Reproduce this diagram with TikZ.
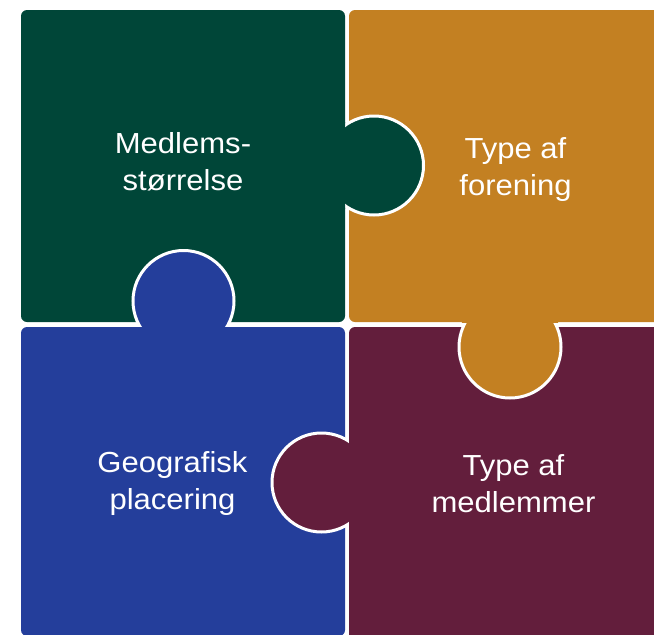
\documentclass[tikz,border=0pt]{standalone}
\usepackage{fontspec}
\newfontfamily\piecefont{Liberation Sans}[FakeStretch=1.07]
\definecolor{pgreen}{RGB}{0,70,56}
\definecolor{pgold}{RGB}{195,128,34}
\definecolor{pblue}{RGB}{36,62,155}
\definecolor{pmaroon}{RGB}{99,30,60}
\begin{document}
\begin{tikzpicture}[x=1pt,y=-1pt,
  piece/.style={rounded corners=6pt},
  knobline/.style={draw=white,line width=3pt},
  lbl/.style={text=white,align=center,inner sep=0pt,font=\piecefont\fontsize{29}{37}\selectfont}]
\useasboundingbox (0,0) rectangle (654,635);
\fill[white] (0,0) rectangle (654,635);
% pieces
\fill[pgreen,piece] (21,10) rectangle (345,322);
\fill[pgold,piece] (349,10) rectangle (670,322);
\fill[pblue,piece] (21,327) rectangle (345,636);
\fill[pmaroon,piece] (349,327) rectangle (670,650);
% green knob into gold
\filldraw[fill=pgreen,knobline] (374,165.5) circle (49.5);
\begin{scope}\clip (21,10) rectangle (345,322); \fill[pgreen] (374,165.5) circle (52);\end{scope}
% blue knob into green
\filldraw[fill=pblue,knobline] (183.5,301) circle (50.5);
\begin{scope}\clip (21,327) rectangle (345,636); \fill[pblue] (183.5,301) circle (53);\end{scope}
% gold knob into maroon
\filldraw[fill=pgold,knobline] (510,347) circle (51);
\begin{scope}\clip (349,10) rectangle (670,322); \fill[pgold] (510,347) circle (54);\end{scope}
% maroon knob into blue
\filldraw[fill=pmaroon,knobline] (321.5,482.5) circle (49.5);
\begin{scope}\clip (349,327) rectangle (670,650); \fill[pmaroon] (321.5,482.5) circle (52);\end{scope}
% labels
\node[lbl] (t1) at (183,161.5) {Medlems-\\størrelse};
\node[lbl] (t2) at (515.5,169.5) {Type af\\forening};
\node[lbl] (t3) at (172.5,483.5) {Geografisk\\placering};
\node[lbl] (t4) at (513.5,483.5) {Type af\\medlemmer};
\end{tikzpicture}
\end{document}
